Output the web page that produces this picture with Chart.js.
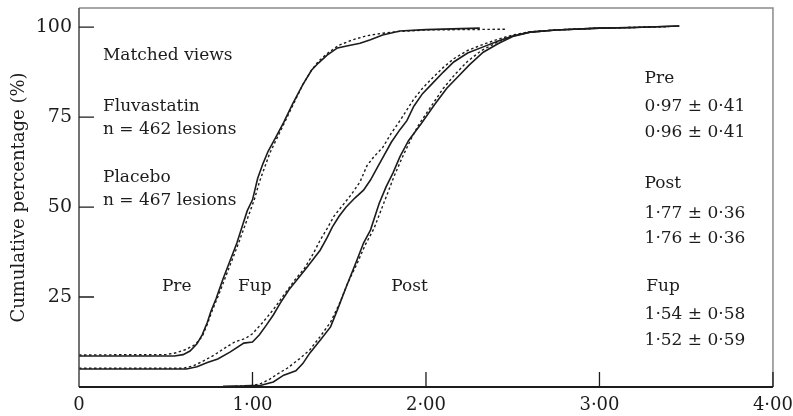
<!DOCTYPE html>
<html>
<head>
<meta charset="utf-8">
<script src="https://cdn.jsdelivr.net/npm/chart.js@4.4.1/dist/chart.umd.min.js"></script>
<style>
  html, body { margin: 0; padding: 0; background: #fff; }
  canvas { display: block; }
</style>
</head>
<body>
<canvas id="cdf" width="793" height="416"></canvas>
<script>
// minimal lumen diameter (mm) vs cumulative percentage
const preFluva = [[0,8.6],[0.55,8.6],[0.60,9],[0.64,10],[0.68,12],[0.71,14.5],[0.74,18],[0.76,21],[0.79,24.5],[0.83,30],[0.87,35],[0.91,40],[0.94,44.5],[0.97,49],[1.00,52],[1.03,58],[1.06,62],[1.09,65.5],[1.13,69],[1.18,73.5],[1.23,78.5],[1.29,84],[1.34,88],[1.38,90],[1.43,92.2],[1.49,94.2],[1.55,94.8],[1.62,95.5],[1.68,96.5],[1.75,97.8],[1.85,98.9],[2.0,99.3],[2.15,99.5],[2.31,99.7]];
const prePlacebo = [[0,8.9],[0.50,9],[0.56,9.5],[0.62,10.5],[0.67,11.8],[0.71,14],[0.74,17.5],[0.77,21.5],[0.80,25],[0.84,30],[0.88,35],[0.92,40],[0.95,44],[0.98,48],[1.01,52],[1.04,57],[1.07,61],[1.10,65],[1.14,69],[1.19,74],[1.24,79],[1.29,84],[1.34,88],[1.38,90.5],[1.44,93],[1.50,95],[1.58,96.5],[1.66,97.6],[1.75,98.3],[1.85,98.8],[2.0,99.2],[2.2,99.3],[2.46,99.4]];
const fupFluva = [[0,5],[0.62,5],[0.68,5.6],[0.74,6.8],[0.80,7.8],[0.87,9.7],[0.95,12.2],[1.00,12.5],[1.04,14.5],[1.08,17.2],[1.12,20],[1.16,23.3],[1.21,27],[1.26,30],[1.31,33],[1.35,35.5],[1.39,38],[1.43,41.5],[1.46,44.4],[1.50,47.5],[1.54,50],[1.59,52.5],[1.64,54.7],[1.68,57.5],[1.72,61],[1.76,64.5],[1.80,68],[1.85,71.5],[1.89,74],[1.93,78],[1.98,81.5],[2.04,84.5],[2.10,87.5],[2.16,90.3],[2.24,92.8],[2.33,94.5],[2.42,96.2],[2.50,97.5],[2.60,98.6],[2.75,99.2],[3.0,99.7],[3.2,99.9],[3.46,100.3]];
const fupPlacebo = [[0,5.2],[0.60,5.2],[0.66,5.9],[0.72,7.3],[0.78,8.9],[0.84,10.8],[0.90,12.6],[0.96,13.5],[1.00,14.8],[1.06,18],[1.12,21.5],[1.18,25.5],[1.24,29.5],[1.30,33],[1.35,37],[1.39,40.8],[1.43,44],[1.47,47.5],[1.52,50.5],[1.57,53.5],[1.62,57],[1.66,61.5],[1.70,64],[1.75,66.5],[1.80,70.5],[1.85,74],[1.89,77],[1.93,80],[1.98,83],[2.04,86],[2.10,88.8],[2.16,91.2],[2.24,93.5],[2.33,95.2],[2.42,96.7],[2.50,97.8],[2.60,98.7],[2.75,99.2],[3.0,99.7],[3.2,99.9],[3.4,100.1]];
const postFluva = [[0.83,0.2],[0.95,0.3],[1.05,0.5],[1.12,1.4],[1.18,3.3],[1.25,4.5],[1.29,6.5],[1.33,9.4],[1.39,13],[1.45,16.7],[1.49,21.5],[1.54,27.8],[1.60,35],[1.64,40],[1.68,43.6],[1.73,51],[1.77,55.6],[1.81,59.5],[1.85,64],[1.90,68.5],[1.97,73],[2.05,78.5],[2.12,83],[2.18,86],[2.25,89.5],[2.33,93],[2.42,95.5],[2.50,97.4],[2.60,98.6],[2.75,99.2],[3.0,99.7],[3.2,99.9],[3.46,100.3]];
const postPlacebo = [[0.90,0.2],[1.00,0.4],[1.05,1],[1.10,2.2],[1.15,3.8],[1.20,5.2],[1.27,7.8],[1.33,10.3],[1.39,14],[1.45,18],[1.50,23],[1.55,29],[1.60,34],[1.65,39.5],[1.70,44],[1.74,49],[1.78,54],[1.82,59],[1.87,64.5],[1.92,69.5],[1.96,73],[2.03,78],[2.10,83],[2.17,87],[2.24,90.5],[2.32,93.5],[2.42,96],[2.50,97.6],[2.60,98.6],[2.75,99.2],[3.0,99.7],[3.3,100]];

const xTicks = [0, 1, 2, 3, 4];
const yTicks = [25, 50, 75, 100];

// text written inside the plot, placed in data units
const notes = [
    { text: "Matched views", x: 0.138, y: 92.2 },
    { text: "Fluvastatin", x: 0.138, y: 77.8 },
    { text: "n = 462 lesions", x: 0.138, y: 71.4 },
    { text: "Placebo", x: 0.138, y: 58.3 },
    { text: "n = 467 lesions", x: 0.138, y: 51.9 },
    { text: "Pre", x: 0.478, y: 27.8 },
    { text: "Fup", x: 0.916, y: 27.8 },
    { text: "Post", x: 1.80, y: 27.8 },
    { text: "Pre", x: 3.26, y: 85.8 },
    { text: "0·97 ± 0·41", x: 3.26, y: 77.8 },
    { text: "0·96 ± 0·41", x: 3.26, y: 70.8 },
    { text: "Post", x: 3.26, y: 56.4 },
    { text: "1·77 ± 0·36", x: 3.26, y: 48.1 },
    { text: "1·76 ± 0·36", x: 3.26, y: 41.1 },
    { text: "Fup", x: 3.27, y: 27.8 },
    { text: "1·54 ± 0·58", x: 3.26, y: 20.0 },
    { text: "1·52 ± 0·59", x: 3.26, y: 13.0 },
];

const FONT = "'DejaVu Serif', serif";
const INK = "#1c1c1c";

function curve(points, dashed) {
    return {
        data: points.map(([x, y]) => ({ x, y })),
        showLine: true,
        borderColor: INK,
        borderWidth: dashed ? 1.4 : 1.6,
        borderDash: dashed ? [2.5, 2.5] : [],
        pointRadius: 0,
        tension: 0,
    };
}

function fmtTick(v) {
    return v === 0 ? "0" : v.toFixed(2).replace(".", "·");
}

// frame, inward tick marks and the notes
const decorations = {
    id: "decorations",
    afterDatasetsDraw(chart) {
        const { ctx, chartArea: a, scales } = chart;
        ctx.save();
        ctx.lineCap = "butt";

        ctx.strokeStyle = "#8a8a8a";
        ctx.lineWidth = 1.5;
        ctx.beginPath();
        ctx.moveTo(a.left, a.top);
        ctx.lineTo(a.right, a.top);
        ctx.lineTo(a.right, a.bottom);
        ctx.stroke();

        ctx.strokeStyle = "#444";
        ctx.beginPath();
        ctx.moveTo(a.left, a.top);
        ctx.lineTo(a.left, a.bottom);
        ctx.stroke();

        ctx.strokeStyle = INK;
        ctx.lineWidth = 2;
        ctx.beginPath();
        ctx.moveTo(a.left, a.bottom);
        ctx.lineTo(a.right, a.bottom);
        ctx.stroke();

        ctx.lineWidth = 1.3;
        ctx.beginPath();
        yTicks.forEach((v) => {
            const py = scales.y.getPixelForValue(v);
            ctx.moveTo(a.left, py);
            ctx.lineTo(a.left + 15, py);
        });
        xTicks.slice(1).forEach((v) => {
            const px = scales.x.getPixelForValue(v);
            ctx.moveTo(px, a.bottom);
            ctx.lineTo(px, a.bottom - 15);
        });
        ctx.stroke();

        ctx.fillStyle = INK;
        ctx.font = "17px " + FONT;
        ctx.textAlign = "left";
        ctx.textBaseline = "middle";
        notes.forEach((n) => {
            ctx.fillText(n.text, scales.x.getPixelForValue(n.x), scales.y.getPixelForValue(n.y));
        });
        ctx.restore();
    },
};

new Chart(document.getElementById("cdf").getContext("2d"), {
    type: "scatter",
    data: {
        datasets: [
            curve(preFluva, false),
            curve(prePlacebo, true),
            curve(fupFluva, false),
            curve(fupPlacebo, true),
            curve(postFluva, false),
            curve(postPlacebo, true),
        ],
    },
    options: {
        responsive: false,
        animation: false,
        layout: { padding: { top: 8, right: 20, left: 0, bottom: 0 } },
        plugins: {
            legend: { display: false },
            tooltip: { enabled: false },
        },
        scales: {
            x: {
                type: "linear",
                min: 0,
                max: 4,
                afterBuildTicks: (s) => { s.ticks = xTicks.map((v) => ({ value: v })); },
                afterFit: (s) => { s.height = 29; },
                // tick marks are drawn inward by the plugin; tickLength only spaces the labels
                grid: { display: false, drawTicks: true, tickLength: 8 },
                border: { display: false },
                ticks: {
                    padding: 0,
                    color: INK,
                    font: { family: FONT, size: 18 },
                    maxRotation: 0,
                    callback: fmtTick,
                },
            },
            y: {
                min: 0,
                max: 105.3,
                afterBuildTicks: (s) => { s.ticks = yTicks.map((v) => ({ value: v })); },
                afterFit: (s) => { s.width = 79; },
                grid: { display: false, drawTicks: true, tickLength: 7 },
                border: { display: false },
                ticks: {
                    padding: 0,
                    color: INK,
                    font: { family: FONT, size: 19, lineHeight: 0.8 },
                },
                title: {
                    display: true,
                    text: "Cumulative percentage (%)",
                    color: INK,
                    font: { family: FONT, size: 18 },
                    padding: { top: 9, bottom: 0 },
                },
            },
        },
    },
    plugins: [decorations],
});
</script>
</body>
</html>
